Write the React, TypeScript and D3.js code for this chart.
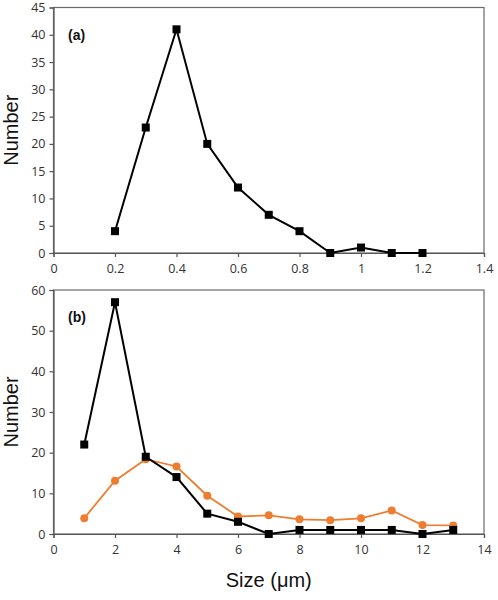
import { useEffect, useRef } from "react"
import * as d3 from "d3"

// panel (a)
const sizeA = [0.2, 0.3, 0.4, 0.5, 0.6, 0.7, 0.8, 0.9, 1.0, 1.1, 1.2]
const countA = [4, 23, 41, 20, 12, 7, 4, 0, 1, 0, 0]
const ticksXA = [0, 0.2, 0.4, 0.6, 0.8, 1, 1.2, 1.4]
const ticksYA = [0, 5, 10, 15, 20, 25, 30, 35, 40, 45]

// panel (b)
const sizeB = [1, 2, 3, 4, 5, 6, 7, 8, 9, 10, 11, 12, 13]
const countBlack = [22, 57, 19, 14, 5, 3, 0, 1, 1, 1, 1, 0, 1]
const countOrange = [3.9, 13.1, 18.4, 16.6, 9.4, 4.3, 4.6, 3.6, 3.4, 3.85, 5.8, 2.2, 2.1]
const ticksXB = [0, 2, 4, 6, 8, 10, 12, 14]
const ticksYB = [0, 10, 20, 30, 40, 50, 60]

const W = 498
const H = 600
const LEFT = 53.5
const RIGHT = 484
const ORANGE = "#ED7D31"
const TICK_FONT = "'Open Sans', 'DejaVu Sans', sans-serif"
const TITLE_FONT = "'Liberation Sans', Arial, sans-serif"

type Series = { x: number[]; y: number[]; color: string; marker: "square" | "circle" }

function drawPanel(
  root: d3.Selection<SVGSVGElement, unknown, null, undefined>,
  cfg: {
    xDomain: [number, number]
    yDomain: [number, number]
    top: number
    bottom: number
    xTicks: number[]
    yTicks: number[]
    label: string
    series: Series[]
  }
) {
  const x = d3.scaleLinear().domain(cfg.xDomain).range([LEFT, RIGHT])
  const y = d3.scaleLinear().domain(cfg.yDomain).range([cfg.bottom, cfg.top])
  const g = root.append("g")

  // plot frame
  g.append("rect")
    .attr("x", LEFT)
    .attr("y", cfg.top)
    .attr("width", RIGHT - LEFT)
    .attr("height", cfg.bottom - cfg.top)
    .attr("fill", "none")
    .attr("stroke", "#6a6a6a")
    .attr("stroke-width", 1.2)

  const xAxis = g.append("g")
    .attr("transform", `translate(0,${cfg.bottom})`)
    .call(d3.axisBottom(x).tickValues(cfg.xTicks).tickSize(4).tickPadding(7).tickFormat(d3.format("~g")))
  const yAxis = g.append("g")
    .attr("transform", `translate(${LEFT},0)`)
    .call(d3.axisLeft(y).tickValues(cfg.yTicks).tickSize(4).tickPadding(4))

  ;[xAxis, yAxis].forEach(a => {
    a.select(".domain").attr("stroke", "#555").attr("stroke-width", 1.2)
    a.selectAll(".tick line").attr("stroke", "#555").attr("stroke-width", 1.2)
    a.selectAll(".tick text")
      .attr("fill", "#333")
      .style("font-size", "12.5px")
      .style("font-family", TICK_FONT)
  })

  g.append("text")
    .attr("x", 68)
    .attr("y", cfg.top + 32)
    .text(cfg.label)
    .style("font-family", TITLE_FONT)
    .style("font-weight", "bold")
    .style("font-size", "14px")
    .attr("fill", "#111")

  g.append("text")
    .attr("transform", `translate(18,${(cfg.top + cfg.bottom) / 2}) rotate(-90)`)
    .attr("text-anchor", "middle")
    .text("Number")
    .style("font-family", TITLE_FONT)
    .style("font-size", "20px")
    .attr("fill", "#111")

  cfg.series.forEach(s => {
    const pts = s.x.map((v, i) => [x(v), y(s.y[i])] as [number, number])
    g.append("path")
      .attr("d", d3.line()(pts))
      .attr("fill", "none")
      .attr("stroke", s.color)
      .attr("stroke-width", s.marker === "square" ? 2 : 1.8)
    if (s.marker === "square") {
      g.selectAll(null)
        .data(pts)
        .enter()
        .append("rect")
        .attr("x", d => d[0] - 4)
        .attr("y", d => d[1] - 4)
        .attr("width", 8)
        .attr("height", 8)
        .attr("fill", s.color)
    } else {
      g.selectAll(null)
        .data(pts)
        .enter()
        .append("circle")
        .attr("cx", d => d[0])
        .attr("cy", d => d[1])
        .attr("r", 4)
        .attr("fill", s.color)
    }
  })
}

export default function App() {
  const svgRef = useRef<SVGSVGElement>(null)

  useEffect(() => {
    if (!svgRef.current) return
    const svg = d3.select(svgRef.current)
    svg.selectAll("*").remove()

    svg.append("rect").attr("width", W).attr("height", H).attr("fill", "white")

    drawPanel(svg, {
      xDomain: [0, 1.4],
      yDomain: [0, 45],
      top: 7.5,
      bottom: 253,
      xTicks: ticksXA,
      yTicks: ticksYA,
      label: "(a)",
      series: [{ x: sizeA, y: countA, color: "#000", marker: "square" }],
    })

    drawPanel(svg, {
      xDomain: [0, 14],
      yDomain: [0, 60],
      top: 290,
      bottom: 534,
      xTicks: ticksXB,
      yTicks: ticksYB,
      label: "(b)",
      series: [
        { x: sizeB, y: countOrange, color: ORANGE, marker: "circle" },
        { x: sizeB, y: countBlack, color: "#000", marker: "square" },
      ],
    })

    svg.append("text")
      .attr("x", (LEFT + RIGHT) / 2)
      .attr("y", 587)
      .attr("text-anchor", "middle")
      .text("Size (\u03bcm)")
      .style("font-family", TITLE_FONT)
      .style("font-size", "20px")
      .attr("fill", "#111")
  }, [])

  return (
    <div style={{ position: "absolute", left: 0, top: 0 }}>
      <svg ref={svgRef} width={W} height={H} style={{ display: "block" }} />
    </div>
  )
}
